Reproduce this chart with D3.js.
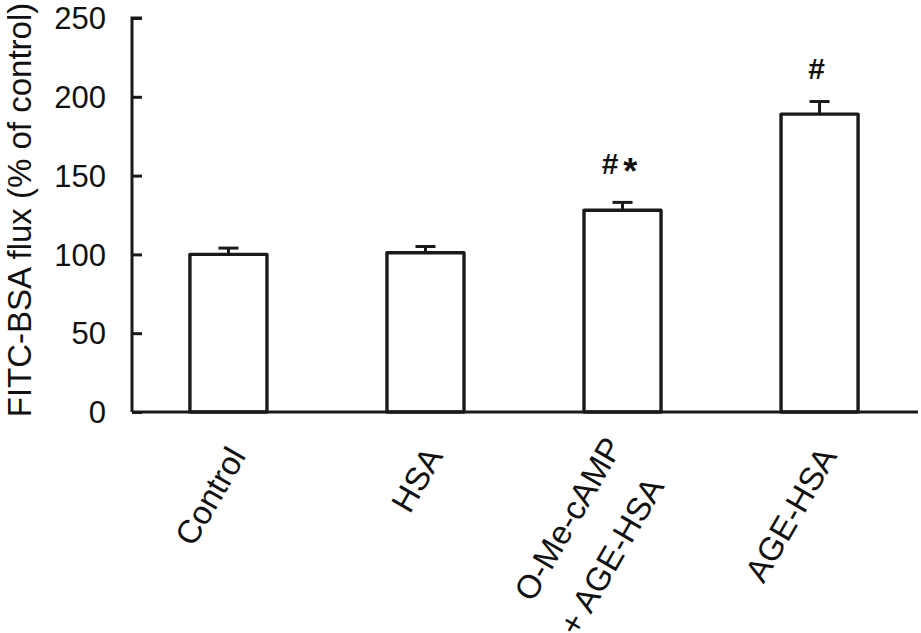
<!DOCTYPE html>
<html>
<head>
<meta charset="utf-8">
<script src="https://cdn.jsdelivr.net/npm/d3@7"></script>
<style>
  html, body { margin: 0; padding: 0; background: #fff; }
  svg { display: block; }
  text { font-family: "Liberation Sans", Arial, sans-serif; fill: #111; }
</style>
</head>
<body>
<svg id="chart" width="921" height="633"></svg>
<script>
// ---- data ----
const categories = ["Control", "HSA", "O-Me-cAMP\n+ AGE-HSA", "AGE-HSA"];
const values = [100, 101, 128, 189];
const errors = [4, 4, 5, 8];
const annotations = ["", "", "#*", "#"];
const yTicks = [0, 50, 100, 150, 200, 250];
const yTitle = "FITC-BSA flux (% of control)";

// ---- layout ----
const svg = d3.select("#chart");
const ink = "#1a1a1a";
const x0 = 132, x1 = 916, yBase = 412, yTop = 18;

const x = d3.scaleBand().domain(categories).range([x0, x1])
  .paddingInner(0.609).paddingOuter(0.294);
const y = d3.scaleLinear().domain([0, 250]).range([yBase, yTop]);

// bars
svg.append("g").selectAll("rect").data(categories).join("rect")
  .attr("x", d => x(d))
  .attr("y", (d, i) => y(values[i]))
  .attr("width", x.bandwidth())
  .attr("height", (d, i) => y(0) - y(values[i]))
  .attr("fill", "#fff")
  .attr("stroke", ink)
  .attr("stroke-width", 3.4)
  .attr("stroke-linejoin", "round");

// error bars
const eg = svg.append("g").attr("stroke", ink).attr("stroke-width", 3);
categories.forEach((c, i) => {
  const cx = x(c) + x.bandwidth() / 2;
  eg.append("line").attr("x1", cx).attr("x2", cx)
    .attr("y1", y(values[i])).attr("y2", y(values[i] + errors[i]));
  eg.append("line").attr("x1", cx - 10).attr("x2", cx + 10)
    .attr("y1", y(values[i] + errors[i])).attr("y2", y(values[i] + errors[i]));
});

// y axis (ticks pointing inward)
const yAxis = d3.axisRight(y).tickValues(yTicks).tickSize(10).tickFormat("");
const ya = svg.append("g").attr("transform", `translate(${x0},0)`).call(yAxis);
ya.select(".domain").attr("d", `M10,${yTop}H0V${yBase}`)
  .attr("stroke", ink).attr("stroke-width", 3).attr("fill", "none");
ya.selectAll(".tick line").attr("stroke", ink).attr("stroke-width", 3);

// y tick labels
svg.append("g").selectAll("text").data(yTicks).join("text")
  .attr("x", x0 - 26)
  .attr("y", d => y(d))
  .attr("dy", "0.36em")
  .attr("text-anchor", "end")
  .style("font-size", "31px")
  .text(d => d);

// x axis baseline
svg.append("line")
  .attr("x1", x0).attr("x2", x1 + 2)
  .attr("y1", yBase).attr("y2", yBase)
  .attr("stroke", ink).attr("stroke-width", 3);

// x category labels (rotated)
const angle = -60;
const lg = svg.append("g");
categories.forEach((c, i) => {
  const cx = x(c) + x.bandwidth() / 2;
  const lines = c.split("\n");
  const g = lg.append("g")
    .attr("transform", `translate(${cx + 8},${yBase + 38}) rotate(${angle})`);
  lines.forEach((ln, j) => {
    const multi = lines.length > 1;
    const off = multi ? (j === 0 ? -20 : 36) : 0;
    const shift = multi && j === 1 ? -14 : 0;
    g.append("text")
      .attr("x", shift)
      .attr("y", off)
      .attr("dy", "0.36em")
      .attr("text-anchor", "end")
      .style("font-size", "33px")
      .text(ln);
  });
});

// significance annotations
categories.forEach((c, i) => {
  if (!annotations[i]) return;
  const cx = x(c) + x.bandwidth() / 2;
  const t = svg.append("text")
    .attr("x", cx - 3)
    .attr("y", y(values[i] + errors[i]) - (annotations[i].length > 1 ? 28 : 23))
    .attr("text-anchor", "middle")
    .style("font-size", "30px")
    .style("font-weight", "bold");
  const parts = annotations[i].split("");
  parts.forEach(p => {
    if (p === "*") {
      t.append("tspan").attr("dx", 5).attr("dy", "0.28em").style("font-size", "36px").text(p);
    } else {
      t.append("tspan").text(p);
    }
  });
});

// y title
svg.append("text")
  .attr("transform", `translate(31,210) rotate(-90)`)
  .attr("text-anchor", "middle")
  .style("font-size", "33px")
  .text(yTitle);
</script>
</body>
</html>
